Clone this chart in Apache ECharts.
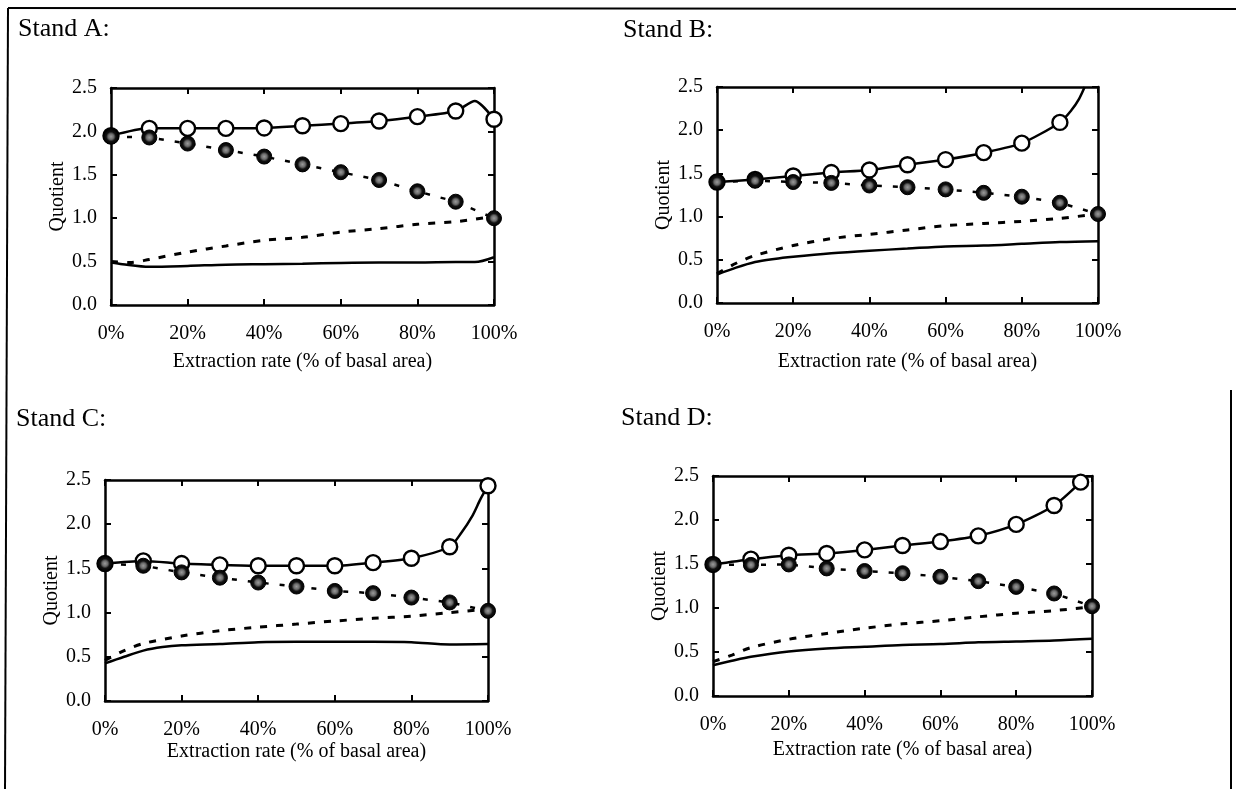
<!DOCTYPE html>
<html>
<head>
<meta charset="utf-8">
<script src="https://cdn.jsdelivr.net/npm/echarts@6/dist/echarts.min.js"></script>
<style>
  html, body { margin: 0; padding: 0; background: #fff; }
  #chart { width: 1236px; height: 789px; }
</style>
</head>
<body>
<div id="chart"></div>
<script>
// extraction rate (%) where the circles sit
const pct = [0, 10, 20, 30, 40, 50, 60, 70, 80, 90, 100];

// Stand A
const openA_x = [0, 10, 20, 30, 40, 50, 60, 70, 80, 90, 95, 100];
const openA_y = [1.95, 2.035, 2.035, 2.035, 2.04, 2.065, 2.09, 2.12, 2.17, 2.235, 2.35, 2.14];
const filledA = [1.94, 1.93, 1.86, 1.785, 1.71, 1.62, 1.53, 1.44, 1.31, 1.19, 1.0];
const dashA_x = [0, 5, 10, 20, 30, 40, 50, 60, 70, 80, 90, 100];
const dashA_y = [0.5, 0.49, 0.525, 0.61, 0.68, 0.745, 0.78, 0.84, 0.88, 0.93, 0.96, 1.02];
const solidA_x = [0, 3, 10, 20, 30, 40, 50, 60, 70, 80, 90, 95, 100];
const solidA_y = [0.49, 0.47, 0.44, 0.45, 0.465, 0.47, 0.475, 0.485, 0.49, 0.49, 0.495, 0.495, 0.55];

// Stand B
const openB_x = [0, 10, 20, 30, 40, 50, 60, 70, 80, 90, 93, 95, 96.5];
const openB_y = [1.40, 1.43, 1.47, 1.51, 1.54, 1.60, 1.66, 1.74, 1.85, 2.09, 2.23, 2.36, 2.5];
const filledB = [1.40, 1.415, 1.40, 1.39, 1.36, 1.34, 1.315, 1.275, 1.23, 1.16, 1.03];
const dashB_x = [0, 5, 10, 20, 30, 40, 50, 60, 70, 80, 90, 100];
const dashB_y = [0.34, 0.46, 0.55, 0.665, 0.745, 0.795, 0.845, 0.895, 0.92, 0.945, 0.98, 1.03];
const solidB_x = [0, 5, 10, 15, 20, 30, 40, 50, 60, 70, 80, 90, 100];
const solidB_y = [0.33, 0.41, 0.475, 0.51, 0.535, 0.575, 0.605, 0.63, 0.655, 0.665, 0.685, 0.705, 0.715];

// Stand C
const openC_x = [0, 10, 20, 30, 40, 50, 60, 70, 80, 90, 93, 96, 98, 100];
const openC_y = [1.555, 1.585, 1.555, 1.54, 1.53, 1.53, 1.53, 1.565, 1.615, 1.745, 1.9, 2.1, 2.28, 2.435];
const filledC = [1.555, 1.53, 1.455, 1.395, 1.34, 1.295, 1.245, 1.22, 1.17, 1.115, 1.02];
const dashC_x = [0, 5, 10, 20, 30, 40, 50, 60, 70, 80, 90, 100];
const dashC_y = [0.46, 0.57, 0.65, 0.735, 0.795, 0.835, 0.87, 0.905, 0.935, 0.96, 1.0, 1.04];
const solidC_x = [0, 5, 10, 15, 20, 30, 40, 50, 60, 70, 80, 90, 100];
const solidC_y = [0.425, 0.5, 0.57, 0.61, 0.63, 0.645, 0.665, 0.67, 0.67, 0.67, 0.665, 0.64, 0.645];

// Stand D
const openD_x = [0, 10, 20, 30, 40, 50, 60, 70, 80, 90, 97];
const openD_y = [1.495, 1.555, 1.60, 1.62, 1.66, 1.71, 1.755, 1.82, 1.95, 2.165, 2.43];
const filledD = [1.495, 1.49, 1.495, 1.45, 1.42, 1.395, 1.355, 1.305, 1.24, 1.165, 1.02];
const dashD_x = [0, 5, 10, 20, 30, 40, 50, 60, 70, 80, 90, 100];
const dashD_y = [0.39, 0.465, 0.55, 0.645, 0.71, 0.77, 0.82, 0.855, 0.90, 0.94, 0.97, 1.015];
const solidD_x = [0, 5, 10, 20, 30, 40, 50, 60, 70, 80, 90, 100];
const solidD_y = [0.35, 0.40, 0.445, 0.505, 0.54, 0.56, 0.58, 0.59, 0.61, 0.62, 0.63, 0.65];

// which x of the open curve get a circle
const marksOpen = [0, 10, 20, 30, 40, 50, 60, 70, 80, 90, 97, 100];

const titles = ['Stand A:', 'Stand B:', 'Stand C:', 'Stand D:'];

const stands = [
  { open: [openA_x, openA_y], filled: filledA, dash: [dashA_x, dashA_y], solid: [solidA_x, solidA_y] },
  { open: [openB_x, openB_y], filled: filledB, dash: [dashB_x, dashB_y], solid: [solidB_x, solidB_y] },
  { open: [openC_x, openC_y], filled: filledC, dash: [dashC_x, dashC_y], solid: [solidC_x, solidC_y] },
  { open: [openD_x, openD_y], filled: filledD, dash: [dashD_x, dashD_y], solid: [solidD_x, solidD_y] }
];

const FONT = '"Liberation Serif", "Times New Roman", serif';

const grids = [
  { left: 111, top: 88, width: 383, height: 217 },
  { left: 717, top: 87, width: 381, height: 216 },
  { left: 105, top: 480, width: 383, height: 221 },
  { left: 713, top: 476, width: 379, height: 220 }
];
const xNameGap = [47, 49, 41, 44];
const titlePos = [[18, 16], [623, 17], [16, 406], [621, 405]];

const zip = (xs, ys) => xs.map((x, i) => [x, ys[i]]);

const lineAxis = { show: true, onZero: false, lineStyle: { color: '#000', width: 2.5 } };
const tickIn = { show: true, inside: true, length: 6, lineStyle: { color: '#000', width: 2 } };

const xAxes = [], yAxes = [], series = [];

grids.forEach((g, i) => {
  xAxes.push({
    gridIndex: i, type: 'value', min: 0, max: 100, interval: 20, position: 'bottom',
    axisLine: lineAxis, axisTick: tickIn, splitLine: { show: false },
    axisLabel: { formatter: '{value}%', margin: 19, color: '#000', fontFamily: FONT, fontSize: 20 },
    name: 'Extraction rate (% of basal area)', nameLocation: 'middle', nameGap: xNameGap[i],
    nameTextStyle: { color: '#000', fontFamily: FONT, fontSize: 20 }
  });
  xAxes.push({
    gridIndex: i, type: 'value', min: 0, max: 100, interval: 20, position: 'top',
    axisLine: lineAxis, axisTick: tickIn, axisLabel: { show: false }, splitLine: { show: false }
  });
  yAxes.push({
    gridIndex: i, type: 'value', min: 0, max: 2.5, interval: 0.5, position: 'left',
    axisLine: lineAxis, axisTick: tickIn, splitLine: { show: false },
    axisLabel: { formatter: v => v.toFixed(1), margin: 14, color: '#000', fontFamily: FONT, fontSize: 20 },
    name: 'Quotient', nameLocation: 'middle', nameGap: 43,
    nameTextStyle: { color: '#000', fontFamily: FONT, fontSize: 20 }
  });
  yAxes.push({
    gridIndex: i, type: 'value', min: 0, max: 2.5, interval: 0.5, position: 'right',
    axisLine: lineAxis, axisTick: tickIn, axisLabel: { show: false }, splitLine: { show: false }
  });

  const s = stands[i];
  const xi = i * 2, yi = i * 2;
  // lowest solid curve
  series.push({
    type: 'line', xAxisIndex: xi, yAxisIndex: yi, data: zip(s.solid[0], s.solid[1]),
    smooth: 0.3, showSymbol: false, lineStyle: { color: '#000', width: 2.5 }, silent: true
  });
  // lower dashed curve
  series.push({
    type: 'line', xAxisIndex: xi, yAxisIndex: yi, data: zip(s.dash[0], s.dash[1]),
    smooth: 0.3, showSymbol: false, lineStyle: { color: '#000', width: 3, type: [7, 9] }, silent: true
  });
  // open circles, solid curve
  series.push({
    type: 'line', xAxisIndex: xi, yAxisIndex: yi, data: zip(s.open[0], s.open[1]),
    smooth: 0.25, symbolSize: 15, showAllSymbol: true,
    symbol: v => marksOpen.includes(v[0]) ? 'circle' : 'none',
    itemStyle: { color: '#fff', borderColor: '#000', borderWidth: 2.4 },
    lineStyle: { color: '#000', width: 2.5 }, silent: true
  });
  // filled circles, dashed curve
  series.push({
    type: 'line', xAxisIndex: xi, yAxisIndex: yi, data: zip(pct, s.filled),
    symbol: 'circle', symbolSize: 15, showAllSymbol: true,
    itemStyle: {
      color: {
        type: 'radial', x: 0.5, y: 0.5, r: 0.5,
        colorStops: [
          { offset: 0, color: '#9a9a9a' },
          { offset: 0.35, color: '#6a6a6a' },
          { offset: 0.6, color: '#111' },
          { offset: 1, color: '#000' }
        ]
      },
      borderColor: '#000', borderWidth: 1
    },
    lineStyle: { color: '#000', width: 2.5, type: [5, 11] }, silent: true
  });
});

const option = {
  animation: false,
  backgroundColor: '#fff',
  title: titles.map((t, i) => ({
    text: t, left: titlePos[i][0], top: titlePos[i][1], padding: 0,
    textStyle: { color: '#000', fontFamily: FONT, fontSize: 26, fontWeight: 'normal' }
  })),
  grid: grids,
  xAxis: xAxes,
  yAxis: yAxes,
  series: series,
  graphic: [
    { type: 'line', shape: { x1: 8, y1: 8, x2: 1236, y2: 9 }, style: { stroke: '#000', lineWidth: 2 } },
    { type: 'line', shape: { x1: 8, y1: 8, x2: 5, y2: 789 }, style: { stroke: '#000', lineWidth: 2 } },
    { type: 'line', shape: { x1: 1231, y1: 390, x2: 1231, y2: 789 }, style: { stroke: '#000', lineWidth: 2 } }
  ]
};

const chart = echarts.init(document.getElementById('chart'));
chart.setOption(option);
</script>
</body>
</html>
